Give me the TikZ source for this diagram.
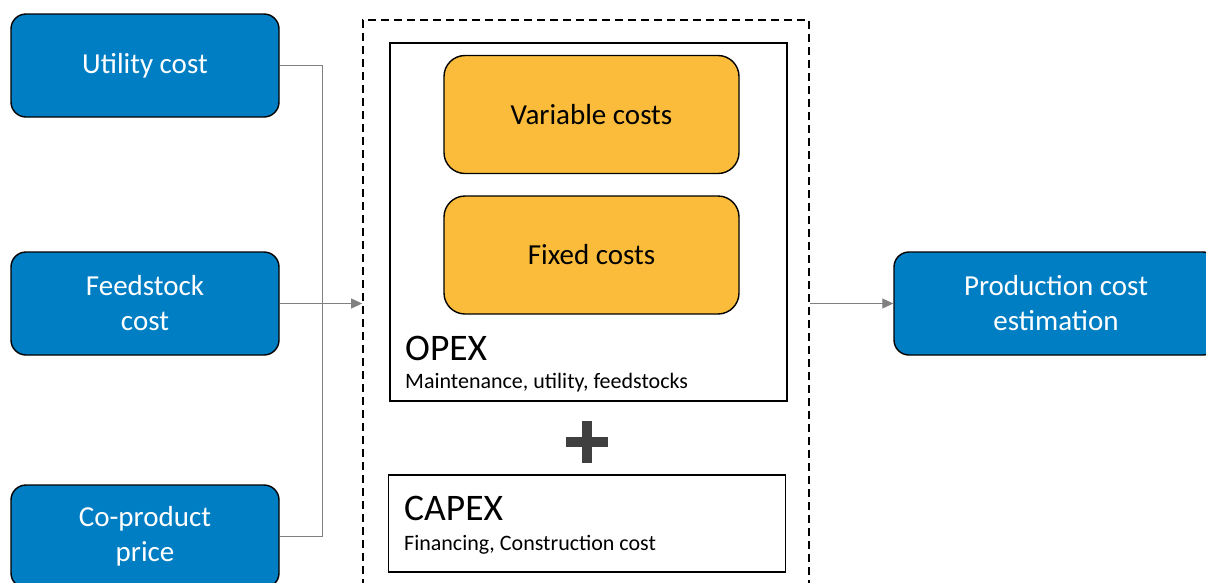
\documentclass[tikz,border=0pt]{standalone}
\usepackage{fontspec}
\setmainfont{Carlito}
\usetikzlibrary{arrows.meta,calc}
\definecolor{boxblue}{RGB}{0,126,196}
\definecolor{boxorange}{RGB}{250,188,58}
\definecolor{linkgray}{RGB}{128,128,128}
\definecolor{plusgray}{RGB}{64,64,64}
\tikzset{
  inbox/.style={draw=black, line width=1.4pt, fill=boxblue, rounded corners=15pt,
    minimum width=268pt, minimum height=103pt, text=white, align=center,
    font=\fontsize{29}{35}\selectfont, inner sep=0pt},
  costbox/.style={draw=black, line width=1.4pt, fill=boxorange, rounded corners=21pt,
    minimum width=295pt, minimum height=118pt, align=center,
    font=\fontsize{29}{35}\selectfont, inner sep=0pt},
  framebox/.style={draw=black, line width=1.4pt, inner sep=0pt},
  link/.style={draw=linkgray, line width=0.9pt},
  linkarrow/.style={link, -{Triangle[length=11pt,width=10pt]}},
  bigtitle/.style={anchor=base west, inner sep=0pt, font=\fontsize{37.5}{42}\selectfont},
  subtitle/.style={anchor=base west, inner sep=0pt, font=\fontsize{22}{26}\selectfont},
}
\begin{document}
\begin{tikzpicture}[x=1pt,y=-1pt]
\useasboundingbox (0,0) rectangle (1206,582);

% input boxes
\node[inbox] (util) at (145,65.5) {\raisebox{-2pt}{Utility cost}};
\node[inbox] (feed) at (145,303.5) {\raisebox{-1pt}{Feedstock}\\\raisebox{-1pt}{cost}};
\node[inbox] (coprod) at (145,536.5) {\raisebox{-1.5pt}{Co-product}\\\raisebox{-1.5pt}{price}};

% output box
\node[inbox, minimum width=324pt] (prod) at (1056,303.5) {\raisebox{-1pt}{Production cost}\\\raisebox{-1pt}{estimation}};

% dashed group around the cost breakdown
\node[draw=black, line width=1.8pt, dash pattern=on 8pt off 5pt,
      minimum width=446pt, minimum height=590pt, inner sep=0pt] (group) at (586,315) {};

% OPEX frame with its cost blocks
\node[framebox, minimum width=397pt, minimum height=358pt] (opex) at (588.5,222) {};
\node[costbox] (var) at (591.5,114.5) {Variable costs};
\node[costbox] (fix) at (591.5,255) {Fixed costs};
\node[bigtitle] (opext) at (405,360) {OPEX};
\node[subtitle] (opexs) at (405,388) {Maintenance, utility, feedstocks};

% plus sign
\fill[plusgray] (566,437) rectangle (608,447);
\fill[plusgray] (582,421) rectangle (592,463);

% CAPEX frame
\node[framebox, minimum width=397pt, minimum height=97pt] (capex) at (587,523.5) {};
\node[bigtitle] (capext) at (404,520) {CAPEX};
\node[subtitle] (capexs) at (404,550) {Financing, Construction cost};

% connectors
\coordinate (join) at (322,303.5);
\draw[link] (util.east) -| (join);
\draw[link] (coprod.east) -| (join);
\draw[linkarrow] (feed.east) -- (feed.east -| group.west);
\draw[linkarrow] (prod.west -| group.east) -- (prod.west);
\end{tikzpicture}
\end{document}
